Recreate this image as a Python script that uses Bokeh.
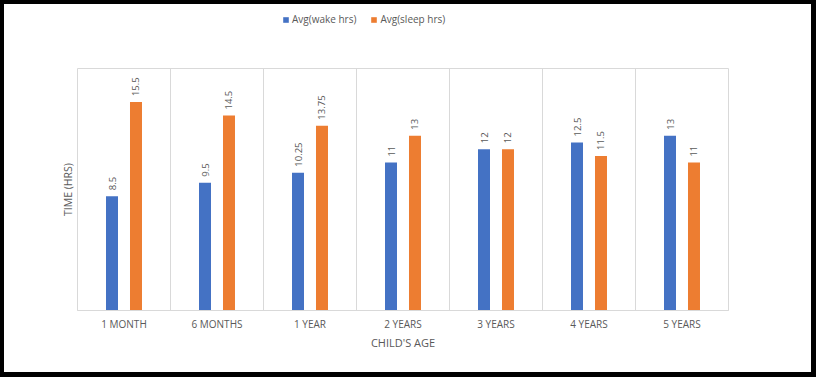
import math
from bokeh.plotting import figure
from bokeh.layouts import column
from bokeh.models import ColumnDataSource, FactorRange, FixedTicker, Legend, LegendItem
from bokeh.transform import dodge
from bokeh.core.properties import value
from bokeh.embed import file_html
from bokeh.resources import INLINE

categories = ["1 MONTH", "6 MONTHS", "1 YEAR", "2 YEARS", "3 YEARS", "4 YEARS", "5 YEARS"]
wake_hrs = [8.5, 9.5, 10.25, 11, 12, 12.5, 13]
sleep_hrs = [15.5, 14.5, 13.75, 13, 12, 11.5, 11]
series_names = ["Avg(wake hrs)", "Avg(sleep hrs)"]

BLUE = "#4472C4"
ORANGE = "#ED7D31"
GREY_TXT = "#595959"
GRID = "#D9D9D9"
FONT = "Open Sans"

src = ColumnDataSource(dict(
    cat=categories,
    wake=wake_hrs,
    sleep=sleep_hrs,
    wake_lbl=[f"{v:g}" for v in wake_hrs],
    sleep_lbl=[f"{v:g}" for v in sleep_hrs],
))

# ---- legend strip (top); its bars fall outside its view, only the legend shows ----
leg_fig = figure(width=807, height=40,
                 x_range=FactorRange(factors=categories, range_padding=0),
                 y_range=(100, 101),
                 min_border=0, x_axis_location=None, y_axis_location=None,
                 output_backend="svg", toolbar_location=None)
leg_fig.outline_line_color = None
leg_fig.grid.grid_line_color = None
leg_fig.background_fill_color = "white"
leg_fig.border_fill_color = "white"
lr1 = leg_fig.vbar(x="cat", top="wake", width=0.1, source=src, fill_color=BLUE, line_color=None)
lr2 = leg_fig.vbar(x="cat", top="sleep", width=0.1, source=src, fill_color=ORANGE, line_color=None)
legend = Legend(
    items=[LegendItem(label=series_names[0], renderers=[lr1]),
           LegendItem(label=series_names[1], renderers=[lr2])],
    location=(205, 18), orientation="horizontal",
    glyph_width=7, glyph_height=7, label_standoff=3, spacing=14,
    label_text_font=FONT, label_text_font_size="10px", label_text_color=GREY_TXT,
    border_line_color=None, background_fill_alpha=0,
    padding=2, margin=0, label_height=10,
)
leg_fig.add_layout(legend, "center")

# ---- main chart ----
p = figure(
    x_range=FactorRange(factors=categories, range_padding=0),
    y_range=(0, 18),
    width=807, height=328,
    min_border_left=73, min_border_right=83,
    min_border_top=24, min_border_bottom=62,
    output_backend="svg", toolbar_location=None,
)
p.background_fill_color = "white"
p.border_fill_color = "white"
p.outline_line_color = GRID
p.outline_line_width = 1

off = 0.129
bw = 0.129
p.vbar(x=dodge("cat", -off, range=p.x_range), top="wake", width=bw, source=src,
       fill_color=BLUE, line_color=None)
p.vbar(x=dodge("cat", off, range=p.x_range), top="sleep", width=bw, source=src,
       fill_color=ORANGE, line_color=None)

for col, lbl, d in (("wake", "wake_lbl", -off), ("sleep", "sleep_lbl", off)):
    p.text(x=dodge("cat", d, range=p.x_range), y=col, text=lbl, source=src,
           angle=math.pi / 2, text_align="left", text_baseline="middle",
           y_offset=-6, text_color=GREY_TXT, text_font_size="9.5px",
           text_font=value(FONT))

# grids: vertical separators between categories, no horizontal lines
p.ygrid.grid_line_color = None
p.xgrid.ticker = FixedTicker(ticks=list(range(1, len(categories))))
p.xgrid.grid_line_color = GRID
p.xgrid.grid_line_width = 1

# x axis
xa = p.xaxis[0]
xa.axis_line_color = GRID
xa.major_tick_line_color = None
xa.minor_tick_line_color = None
xa.major_tick_out = 0
xa.major_tick_in = 0
xa.major_label_text_color = GREY_TXT
xa.major_label_text_font = FONT
xa.major_label_text_font_size = "10px"
xa.major_label_standoff = 6
xa.axis_label = "CHILD'S AGE"
xa.axis_label_text_color = GREY_TXT
xa.axis_label_text_font = FONT
xa.axis_label_text_font_size = "11px"
xa.axis_label_text_font_style = "normal"
xa.axis_label_standoff = 1

# y axis: only title
ya = p.yaxis[0]
ya.ticker = FixedTicker(ticks=[])
ya.axis_line_color = None
ya.major_tick_line_color = None
ya.minor_tick_line_color = None
ya.major_label_text_font_size = "0px"
ya.major_label_standoff = 0
ya.axis_label = "TIME (HRS)"
ya.axis_label_text_color = GREY_TXT
ya.axis_label_text_font = FONT
ya.axis_label_text_font_size = "10.5px"
ya.axis_label_text_font_style = "normal"
ya.axis_label_standoff = 3

layout = column(leg_fig, p, spacing=0)
layout.styles = {"margin-left": "4px", "margin-top": "4px", "outline": "5px solid black",
                 "background-color": "white"}

open("out.html", "w").write(file_html(layout, INLINE))
